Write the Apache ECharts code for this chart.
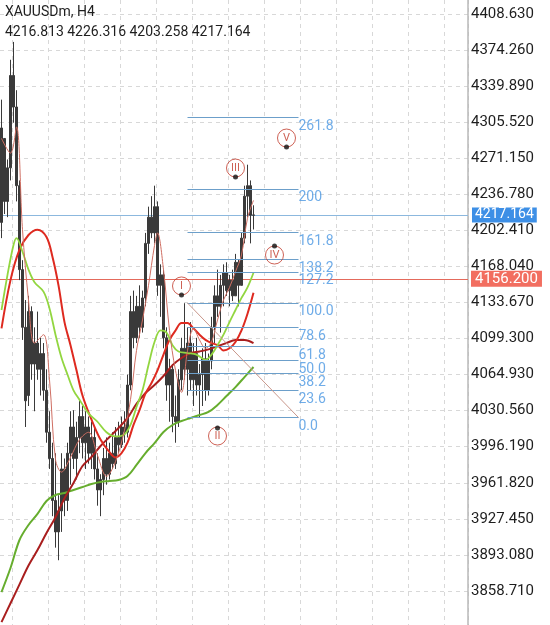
<!DOCTYPE html>
<html>
<head>
<meta charset="utf-8">
<script src="https://cdn.jsdelivr.net/npm/echarts@6/dist/echarts.min.js"></script>
<style>
  html, body { margin: 0; padding: 0; background: #fff; }
  #chart { width: 550px; height: 625px; }
</style>
</head>
<body>
<div id="chart"></div>
<script>
var symbolName = 'XAUUSDm, H4'
var lastBar = ['4216.813', '4226.316', '4203.258', '4217.164'] // O H L C

// H4 bars, oldest first
var opens = [4210, 4290, 4230, 4262, 4350, 4320, 4245, 4165, 4110, 4045, 4125, 4075, 4095, 4070, 4085, 4050, 4010, 3985, 3945, 3915,
  3935, 3975, 3945, 3990, 4015, 3985, 4005, 4025, 4000, 4015, 3990, 4005, 3975, 3955, 3965, 3985, 3970, 3990, 3980, 4005,
  3998, 4015, 4010, 4055, 4125, 4100, 4130, 4110, 4138, 4190, 4215, 4200, 4225, 4150, 4160, 4100, 4055, 4070, 4025, 4020,
  4060, 4090, 4070, 4095, 4060, 4085, 4055, 4065, 4080, 4050, 4078, 4110, 4140, 4130, 4150, 4162, 4145, 4155, 4140, 4172,
  4150, 4195, 4235, 4245, 4216.813]
var closes = [4300, 4230, 4262, 4350, 4320, 4245, 4165, 4110, 4040, 4125, 4075, 4095, 4070, 4085, 4050, 4010, 3985, 3945, 3915, 3935,
  3975, 3945, 3990, 4015, 3985, 4005, 4025, 4000, 4015, 3990, 4005, 3975, 3955, 3965, 3985, 3970, 3990, 3980, 4005, 3998,
  4015, 4010, 4055, 4125, 4100, 4130, 4110, 4138, 4190, 4215, 4200, 4225, 4150, 4160, 4100, 4055, 4070, 4025, 4020, 4060,
  4090, 4070, 4095, 4060, 4085, 4055, 4065, 4080, 4050, 4078, 4110, 4140, 4130, 4150, 4162, 4145, 4155, 4140, 4172, 4150,
  4195, 4235, 4245, 4216.8, 4217.164]
var highs = [4327, 4279, 4270, 4365, 4382, 4336, 4250, 4174, 4136, 4140, 4130, 4110, 4125, 4100, 4095, 4070, 4030, 4000, 3990, 3950,
  3990, 3985, 4000, 4030, 4031, 4020, 4040, 4035, 4030, 4025, 4020, 4015, 3990, 3970, 3995, 4005, 4000, 4010, 4015, 4020,
  4025, 4030, 4065, 4140, 4145, 4140, 4150, 4145, 4200, 4225, 4235, 4245, 4230, 4170, 4165, 4110, 4080, 4075, 4045, 4070,
  4100, 4133, 4110, 4115, 4095, 4100, 4075, 4090, 4095, 4085, 4120, 4150, 4165, 4160, 4170, 4172, 4160, 4165, 4180, 4175,
  4200, 4245, 4265, 4250, 4226.316]
var lows = [4195, 4218, 4215, 4250, 4305, 4230, 4155, 4098, 4015, 4035, 4060, 4030, 4060, 4045, 4040, 4000, 3975, 3930, 3900, 3888,
  3915, 3930, 3935, 3960, 3975, 3965, 3990, 3985, 3975, 3980, 3975, 3965, 3940, 3930, 3950, 3960, 3965, 3975, 3975, 3990,
  3995, 4000, 4005, 4050, 4090, 4095, 4100, 4105, 4130, 4180, 4195, 4190, 4140, 4120, 4090, 4040, 4020, 4010, 4000, 4015,
  4050, 4060, 4045, 4050, 4035, 4045, 4024, 4035, 4040, 4045, 4070, 4095, 4120, 4105, 4130, 4140, 4130, 4135, 4140, 4130,
  4150, 4190, 4215, 4190, 4203.258]

// moving averages: [bar index, price]
var maFast = [[0, 4290], [3, 4276], [5, 4301], [7, 4203], [9, 4136], [11, 4095], [14, 4103], [16, 4060], [18, 3984], [20, 3972],
  [23, 3986], [26, 4003], [29, 4010], [32, 3988], [35, 3968], [38, 3982], [41, 4012], [43, 4041], [45, 4088], [47, 4117],
  [49, 4150], [51, 4188], [52, 4200], [54, 4165], [56, 4107], [58, 4069], [60, 4048], [62, 4088], [64, 4109], [66, 4098],
  [68, 4090], [70, 4096], [72, 4117], [74, 4136], [76, 4148], [78, 4163], [80, 4179], [82, 4214], [84, 4231]]
var maLightGreen = [[0, 4126.5], [2, 4160], [4, 4188.5], [5, 4195], [7, 4182], [9, 4165], [11, 4153], [14, 4144], [16, 4128], [18, 4103],
  [20, 4081], [22, 4065], [24, 4050], [26, 4041], [29, 4028], [32, 4020], [35, 4010], [38, 4006], [41, 4008], [43, 4017],
  [45, 4034], [47, 4050], [49, 4074], [51, 4096], [53, 4107], [55, 4105], [57, 4093], [59, 4087], [62, 4085.5], [65, 4084],
  [68, 4079], [70, 4084], [72, 4093], [74, 4103], [76, 4115], [78, 4126.5], [80, 4138], [82, 4148], [84, 4162]]
var maRed = [[0, 4109], [3, 4155], [6, 4184], [9, 4198], [12, 4203], [15, 4196], [17, 4177], [19, 4150], [21, 4115], [23, 4093],
  [25, 4069], [27, 4045], [30, 4022], [33, 4003], [36, 3991], [38, 3986], [40, 3990], [42, 4000], [44, 4017], [46, 4031],
  [48, 4047], [50, 4057], [52, 4069], [54, 4084], [56, 4098], [58, 4107], [60, 4114], [62, 4114], [64, 4109], [66, 4103],
  [68, 4098], [70, 4095], [72, 4093], [74, 4088], [76, 4090], [78, 4096], [80, 4107], [82, 4123], [84, 4143]]
var maDarkRed = [[0, 3829], [3, 3847], [6, 3865], [9, 3883], [12, 3897.7], [15, 3914], [18, 3929], [21, 3947], [24, 3961.6], [27, 3977.8],
  [30, 3986.4], [33, 3996.9], [36, 4005.5], [39, 4014], [42, 4023.6], [45, 4037], [48, 4047.4], [51, 4055], [54, 4063.6], [57, 4074],
  [60, 4080.8], [63, 4085.5], [66, 4087], [69, 4089], [72, 4092], [75, 4095], [78, 4098], [81, 4098], [84, 4095]]
var maDarkGreen = [[0, 3857.7], [3, 3880.6], [6, 3907.3], [9, 3921.6], [12, 3932.1], [15, 3944.5], [18, 3950.2], [21, 3952.1], [24, 3955], [27, 3957.8],
  [30, 3960.7], [33, 3962.6], [36, 3963.5], [39, 3964.5], [42, 3968.3], [45, 3978.8], [48, 3990.2], [51, 3999.7], [54, 4010.2], [57, 4016.9],
  [60, 4020.7], [63, 4023.6], [66, 4026.4], [69, 4029.3], [72, 4036], [75, 4044.5], [78, 4053], [81, 4062.6], [84, 4072.2]]

// price axis
var yTicks = [3858.710, 3893.080, 3927.450, 3961.820, 3996.190, 4030.560, 4064.930, 4099.300, 4133.670,
  4168.040, 4202.410, 4236.780, 4271.150, 4305.520, 4339.890, 4374.260, 4408.630]
var bidPrice = 4217.164
var markPrice = 4156.200

// fibonacci expansion
var fibNames = ['0.0', '23.6', '38.2', '50.0', '61.8', '78.6', '100.0', '127.2', '138.2', '161.8', '200', '261.8']
var fibPrices = [4024, 4049.8, 4065.8, 4078.8, 4091.6, 4109.8, 4133.2, 4162.8, 4175, 4200.8, 4242, 4310]
var fibFrom = 62
var fibTo = 99

// elliott wave marks
var waveNames = ['I', 'II', 'III', 'IV', 'V']
var waveBars = [60, 72, 78, 91, 95]
var waveLabelPrices = [4149.4, 4006.4, 4261.8, 4178.9, 4290.4]
var waveDotPrices = [4140.8, 4014.0, 4253.3, 4187.5, 4281.9]

var slots = 156 // bars of room incl. the empty right shift
var categories = []
for (var i = 0; i < slots; i++) categories.push(String(i))

var candles = opens.map(function (o, i) {
  return [o, closes[i], lows[i], highs[i]]
})

var font = 'Roboto'
var fibLines = fibPrices.map(function (v) {
  return [{ coord: [fibFrom, v] }, { coord: [fibTo, v] }]
})
fibLines.push([{ coord: [fibFrom, fibPrices[6]] }, { coord: [fibTo, fibPrices[0]] }])

function maSeries(name, data, color, width) {
  return {
    name: name,
    type: 'line',
    data: data,
    smooth: 0.35,
    showSymbol: false,
    silent: true,
    z: 4,
    lineStyle: { color: color, width: width }
  }
}

var chart = echarts.init(document.getElementById('chart'))
chart.setOption({
  animation: false,
  textStyle: { fontFamily: font },
  graphic: [
    { type: 'text', left: 5, top: 5, z: 100, style: { text: symbolName, fontSize: 14, fontFamily: font, fill: '#1e1e1e' } },
    { type: 'text', left: 5, top: 25, z: 100, style: { text: lastBar.join(' '), fontSize: 14, fontFamily: font, fill: '#1e1e1e' } }
  ],
  grid: { left: 0, right: 82, top: 0, bottom: 0 },
  xAxis: {
    type: 'category',
    data: categories,
    boundaryGap: true,
    axisLine: { show: false },
    axisTick: { show: false },
    axisLabel: { show: false },
    splitLine: {
      show: true,
      interval: function (i) { return i % 12 === 4 },
      lineStyle: { color: '#d8d8d8', type: [4, 4] }
    }
  },
  yAxis: {
    type: 'value',
    position: 'right',
    min: 3826.28,
    max: 4421.97,
    axisLine: { show: true, lineStyle: { color: '#b8b8b8', width: 1.5 } },
    axisTick: { show: false, customValues: yTicks },
    axisLabel: {
      customValues: yTicks,
      formatter: function (v) { return v.toFixed(3) },
      color: '#1e1e1e',
      fontSize: 15,
      margin: 3
    },
    splitLine: { show: true, lineStyle: { color: '#d8d8d8', type: [4, 4] } }
  },
  series: [
    {
      type: 'candlestick',
      data: candles,
      barWidth: 2,
      z: 3,
      silent: true,
      itemStyle: { color: '#3a3a3a', color0: '#3a3a3a', borderColor: '#3a3a3a', borderColor0: '#3a3a3a', borderWidth: 1 },
      markLine: {
        symbol: 'none',
        silent: true,
        z: 2,
        data: [
          {
            yAxis: bidPrice,
            lineStyle: { color: '#8cb8de', width: 1, type: 'solid' },
            label: {
              position: 'end', distance: 4, formatter: bidPrice.toFixed(3), color: '#fff', fontSize: 14,
              fontFamily: font, backgroundColor: '#3d8fe6', padding: [1, 3, 0, 3]
            }
          },
          {
            yAxis: markPrice,
            lineStyle: { color: '#e46a5c', width: 1, type: 'solid' },
            label: {
              position: 'end', distance: 3, formatter: markPrice.toFixed(3), color: '#fff', fontSize: 15,
              fontFamily: font, backgroundColor: '#f26e60', padding: [1, 4, 0, 4]
            }
          }
        ]
      }
    },
    {
      type: 'line',
      data: [],
      silent: true,
      z: 1,
      markLine: {
        symbol: 'none',
        silent: true,
        label: { show: false },
        lineStyle: { color: '#6c9fca', width: 1, type: 'solid' },
        data: fibLines.map(function (pair, i) {
          if (i === fibLines.length - 1) {
            return [Object.assign({ lineStyle: { color: '#c8968a', width: 1, type: 'solid' } }, pair[0]), pair[1]]
          }
          return pair
        })
      }
    },
    maSeries('MA slow', maDarkGreen, '#66ad2e', 2),
    maSeries('MA mid', maDarkRed, '#a91e1e', 2),
    maSeries('MA red', maRed, '#de2a20', 2),
    maSeries('MA green', maLightGreen, '#92d640', 1.8),
    maSeries('MA fast', maFast, '#cf6e62', 1),
    {
      type: 'scatter',
      silent: true,
      symbolSize: 0,
      z: 6,
      data: fibPrices.map(function (v, i) { return { value: [fibTo, v], name: fibNames[i] } }),
      label: {
        show: true,
        position: 'right',
        distance: 0,
        offset: [0, 9],
        formatter: function (p) { return p.name },
        color: '#4b97e2',
        fontSize: 14,
        fontFamily: font
      }
    },
    {
      type: 'scatter',
      silent: true,
      symbol: 'circle',
      symbolSize: 18,
      z: 7,
      itemStyle: { color: 'rgba(255,255,255,0)', borderColor: '#c0392b', borderWidth: 1 },
      data: waveBars.map(function (b, i) { return { value: [b, waveLabelPrices[i]], name: waveNames[i] } }),
      label: {
        show: true,
        position: 'inside',
        formatter: function (p) { return p.name },
        color: '#c0392b',
        fontSize: 11,
        fontFamily: font
      }
    },
    {
      type: 'scatter',
      silent: true,
      symbolSize: 5,
      z: 7,
      itemStyle: { color: '#111' },
      data: waveBars.map(function (b, i) { return [b, waveDotPrices[i]] })
    }
  ]
})
</script>
</body>
</html>
